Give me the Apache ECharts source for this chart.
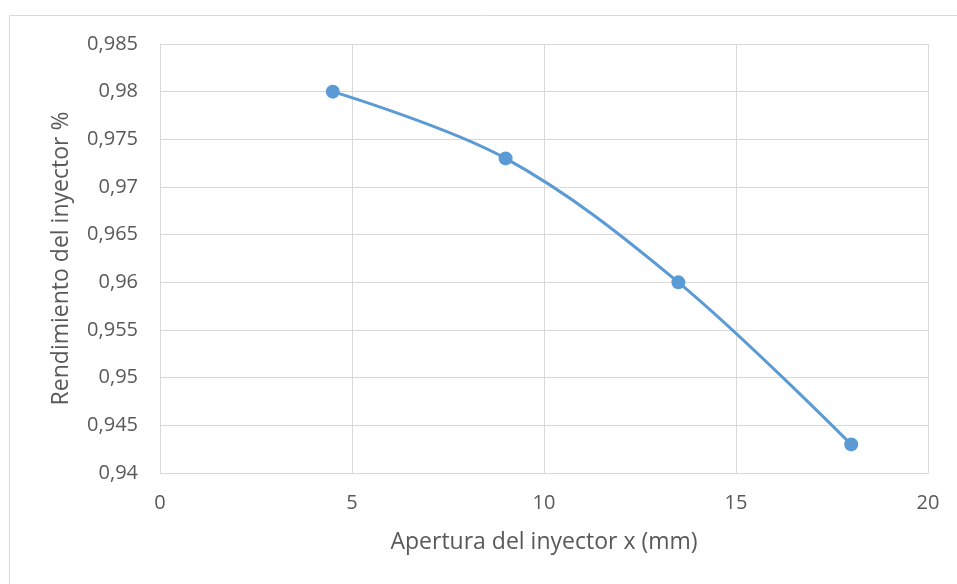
<!DOCTYPE html>
<html><head><meta charset="utf-8">
<script src="https://cdn.jsdelivr.net/npm/echarts@6/dist/echarts.min.js"></script>
<style>html,body{margin:0;padding:0;background:#fff}#c{width:957px;height:584px}</style>
</head><body><div id="c"></div>
<script>
const xValues = [4.5, 9, 13.5, 18];
const yValues = [0.98, 0.973, 0.96, 0.943];
const xTitle = 'Apertura del inyector x (mm)';
const yTitle = 'Rendimiento del inyector %';

const chart = echarts.init(document.getElementById('c'), null, {renderer: 'canvas'});
const font = '"Open Sans", sans-serif';
const fmt = v => String(+v.toFixed(3)).replace('.', ',');
chart.setOption({
  animation: false,
  graphic: [{type: 'rect', shape: {x: 9.5, y: 15.5, width: 1000, height: 1000}, style: {fill: 'none', stroke: '#D9D9D9', lineWidth: 1}, silent: true}],
  grid: {left: 160, right: 29, top: 44, bottom: 111, containLabel: false},
  xAxis: {
    type: 'value', min: 0, max: 20, interval: 5,
    name: xTitle, nameLocation: 'middle', nameGap: 58,
    nameTextStyle: {fontFamily: font, fontSize: 23, color: '#595959'},
    axisLine: {show: true, lineStyle: {color: '#D9D9D9', width: 1}},
    axisTick: {show: false},
    splitLine: {show: true, lineStyle: {color: '#D9D9D9', width: 1}},
    axisLabel: {fontFamily: font, fontSize: 20, color: '#595959', margin: 20}
  },
  yAxis: {
    type: 'value', min: 0.94, max: 0.985, interval: 0.005,
    name: yTitle, nameLocation: 'middle', nameGap: 87,
    nameTextStyle: {fontFamily: font, fontSize: 23, color: '#595959'},
    axisLine: {show: true, lineStyle: {color: '#D9D9D9', width: 1}},
    axisTick: {show: false},
    splitLine: {show: true, lineStyle: {color: '#D9D9D9', width: 1}},
    axisLabel: {fontFamily: font, fontSize: 20, color: '#595959', margin: 22, formatter: fmt}
  },
  series: [{
    type: 'line', smooth: 0.35,
    data: xValues.map((x, i) => [x, yValues[i]]),
    symbol: 'circle', symbolSize: 14,
    itemStyle: {color: '#5B9BD5'},
    lineStyle: {color: '#5B9BD5', width: 3}
  }]
});
</script></body></html>
